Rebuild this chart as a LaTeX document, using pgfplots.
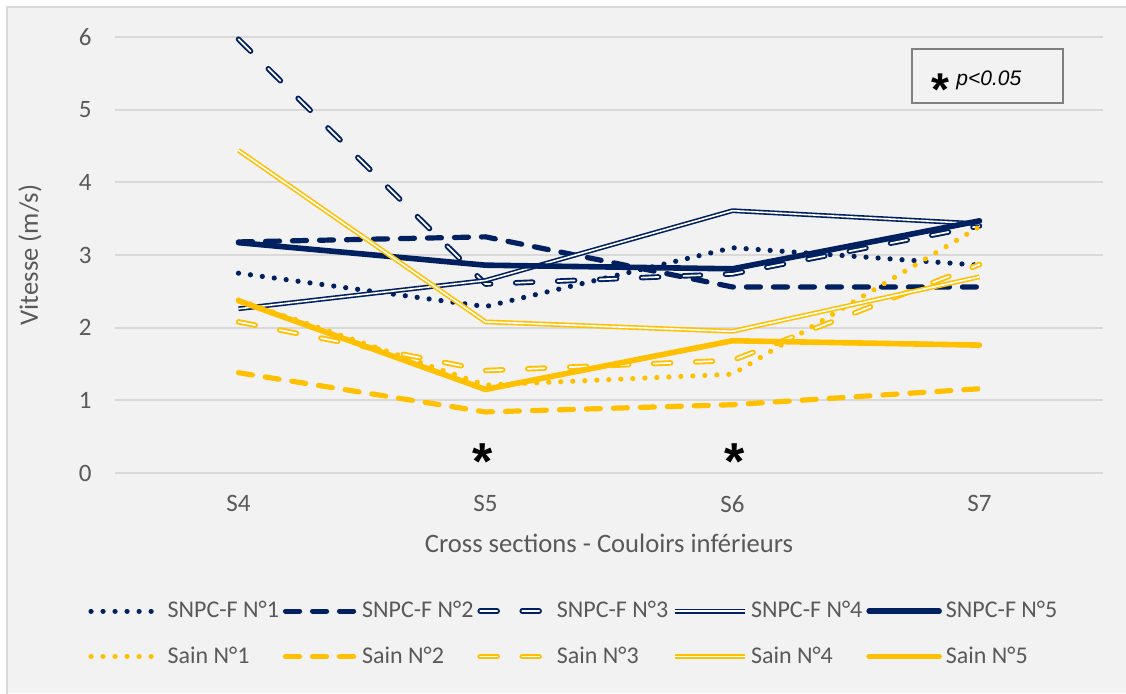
\documentclass[border=0pt]{standalone}
\usepackage{pgfplots}
\usepackage{pgfplotstable}
\pgfplotsset{compat=1.18}
\usepackage{fontspec}
\setmainfont{Carlito}
\newfontfamily\arialfont{Liberation Sans}
\definecolor{navy}{HTML}{002060}
\definecolor{gold}{HTML}{FFC000}
\definecolor{bggray}{HTML}{F2F2F2}
\definecolor{gridgray}{HTML}{D9D9D9}
\definecolor{txtgray}{HTML}{595959}
\definecolor{boxgray}{HTML}{808080}

\pgfplotstableread{
x s1 s2 s3 s4 s5 h1 h2 h3 h4 h5
0 2.75 3.18 5.97 2.26 3.17 2.38 1.38 2.08 4.44 2.37
1 2.29 3.25 2.60 2.65 2.86 1.21 0.84 1.41 2.08 1.15
2 3.10 2.56 2.74 3.61 2.81 1.36 0.94 1.55 1.95 1.82
3 2.86 2.56 3.40 3.43 3.47 3.39 1.16 2.87 2.70 1.76
}\datatable

\tikzset{
 sdot/.style={line width=2.6pt, line cap=round, line join=round, dash pattern=on 0.01pt off 6pt},
 sdash/.style={line width=2.6pt, line cap=round, line join=round, dash pattern=on 7pt off 6.5pt},
 sldash/.style={line width=0.95pt, double=white, double distance=0.85pt, line cap=round, line join=round, dash pattern=on 8.5pt off 12.5pt},
 sdouble/.style={line width=0.8pt, double=white, double distance=0.8pt, line join=round},
 sthick/.style={line width=2.8pt, line join=round, line cap=round},
}

\begin{document}
\begin{tikzpicture}
\useasboundingbox (0,0) rectangle (563pt,346.5pt);
\fill[white] (0,0) rectangle (563pt,346.5pt);
\fill[bggray] (3.5pt,0) rectangle (563pt,343pt);
\draw[gridgray, line width=1pt] (3.5pt,-1pt) -- (3.5pt,343pt) -- (564pt,343pt);
\begin{axis}[
 at={(57.5pt,110pt)}, anchor=south west,
 scale only axis, width=494pt, height=218pt,
 xmin=-0.5, xmax=3.5, ymin=0, ymax=6,
 xtick={0,1,2,3}, xticklabels={S4,S5,S6,S7},
 ytick={0,1,...,6},
 axis line style={draw=none},
 major tick length=0pt, tick style={draw=none},
 ymajorgrids, grid style={gridgray, line width=1pt},
 tick label style={font=\fontsize{12.5}{14}\selectfont, text=txtgray},
 /pgf/number format/assume math mode=true,
 yticklabel style={anchor=east, inner sep=0pt, xshift=-11.5pt},
 xticklabel style={anchor=north, inner sep=0pt, yshift=-11pt},
 xlabel={Cross sections - Couloirs inférieurs},
 ylabel={Vitesse (m/s)},
 every axis x label/.style={at={(axis description cs:0.5,-0.1606)}, anchor=center, font=\fontsize{13.3}{15}\selectfont, text=txtgray},
 every axis y label/.style={at={(axis description cs:-0.086,0.5)}, anchor=center, rotate=90, font=\fontsize{13.3}{15}\selectfont, text=txtgray},
 legend columns=5,
 legend style={at={(axis description cs:-0.0273,-0.369)}, anchor=west, draw=none, fill=none, inner sep=0pt, font=\fontsize{12}{14}\selectfont, text=txtgray, row sep=9pt, column sep=0pt},
 legend cell align=left,
 legend image code/.code={\draw[#1] (0pt,0pt) -- (35pt,0pt);},
 clip=false,
]
\addplot[navy, sdot] table[x=x,y=s1]{\datatable}; \addlegendentry{SNPC-F N°1}
\addplot[navy, sdash] table[x=x,y=s2]{\datatable}; \addlegendentry{SNPC-F N°2}
\addplot[navy, sldash] table[x=x,y=s3]{\datatable}; \addlegendentry{SNPC-F N°3}
\addplot[navy, sdouble] table[x=x,y=s4]{\datatable}; \addlegendentry{SNPC-F N°4}
\addplot[navy, sthick] table[x=x,y=s5]{\datatable}; \addlegendentry{SNPC-F N°5}
\addplot[gold, sdot] table[x=x,y=h1]{\datatable}; \addlegendentry{Sain N°1}
\addplot[gold, sdash] table[x=x,y=h2]{\datatable}; \addlegendentry{Sain N°2}
\addplot[gold, sldash] table[x=x,y=h3]{\datatable}; \addlegendentry{Sain N°3}
\addplot[gold, sdouble] table[x=x,y=h4]{\datatable}; \addlegendentry{Sain N°4}
\addplot[gold, sthick] table[x=x,y=h5]{\datatable}; \addlegendentry{Sain N°5}
\end{axis}
\node[draw=boxgray, line width=1pt, minimum width=75.5pt, minimum height=27pt, inner sep=0pt] at (493.75pt,308.5pt) {};
\node[anchor=base, inner sep=0pt, font=\arialfont\bfseries\fontsize{23}{23}\selectfont] at (470pt,294pt) {*};
\node[anchor=base west, inner sep=0pt, font=\arialfont\itshape\fontsize{10.5}{12}\selectfont] at (478pt,304pt) {p<0.05};
\node[anchor=base, inner sep=0pt, font=\arialfont\bfseries\fontsize{26}{26}\selectfont] at (241.5pt,107pt) {*};
\node[anchor=base, inner sep=0pt, font=\arialfont\bfseries\fontsize{26}{26}\selectfont] at (367.5pt,107pt) {*};
\end{tikzpicture}
\end{document}
